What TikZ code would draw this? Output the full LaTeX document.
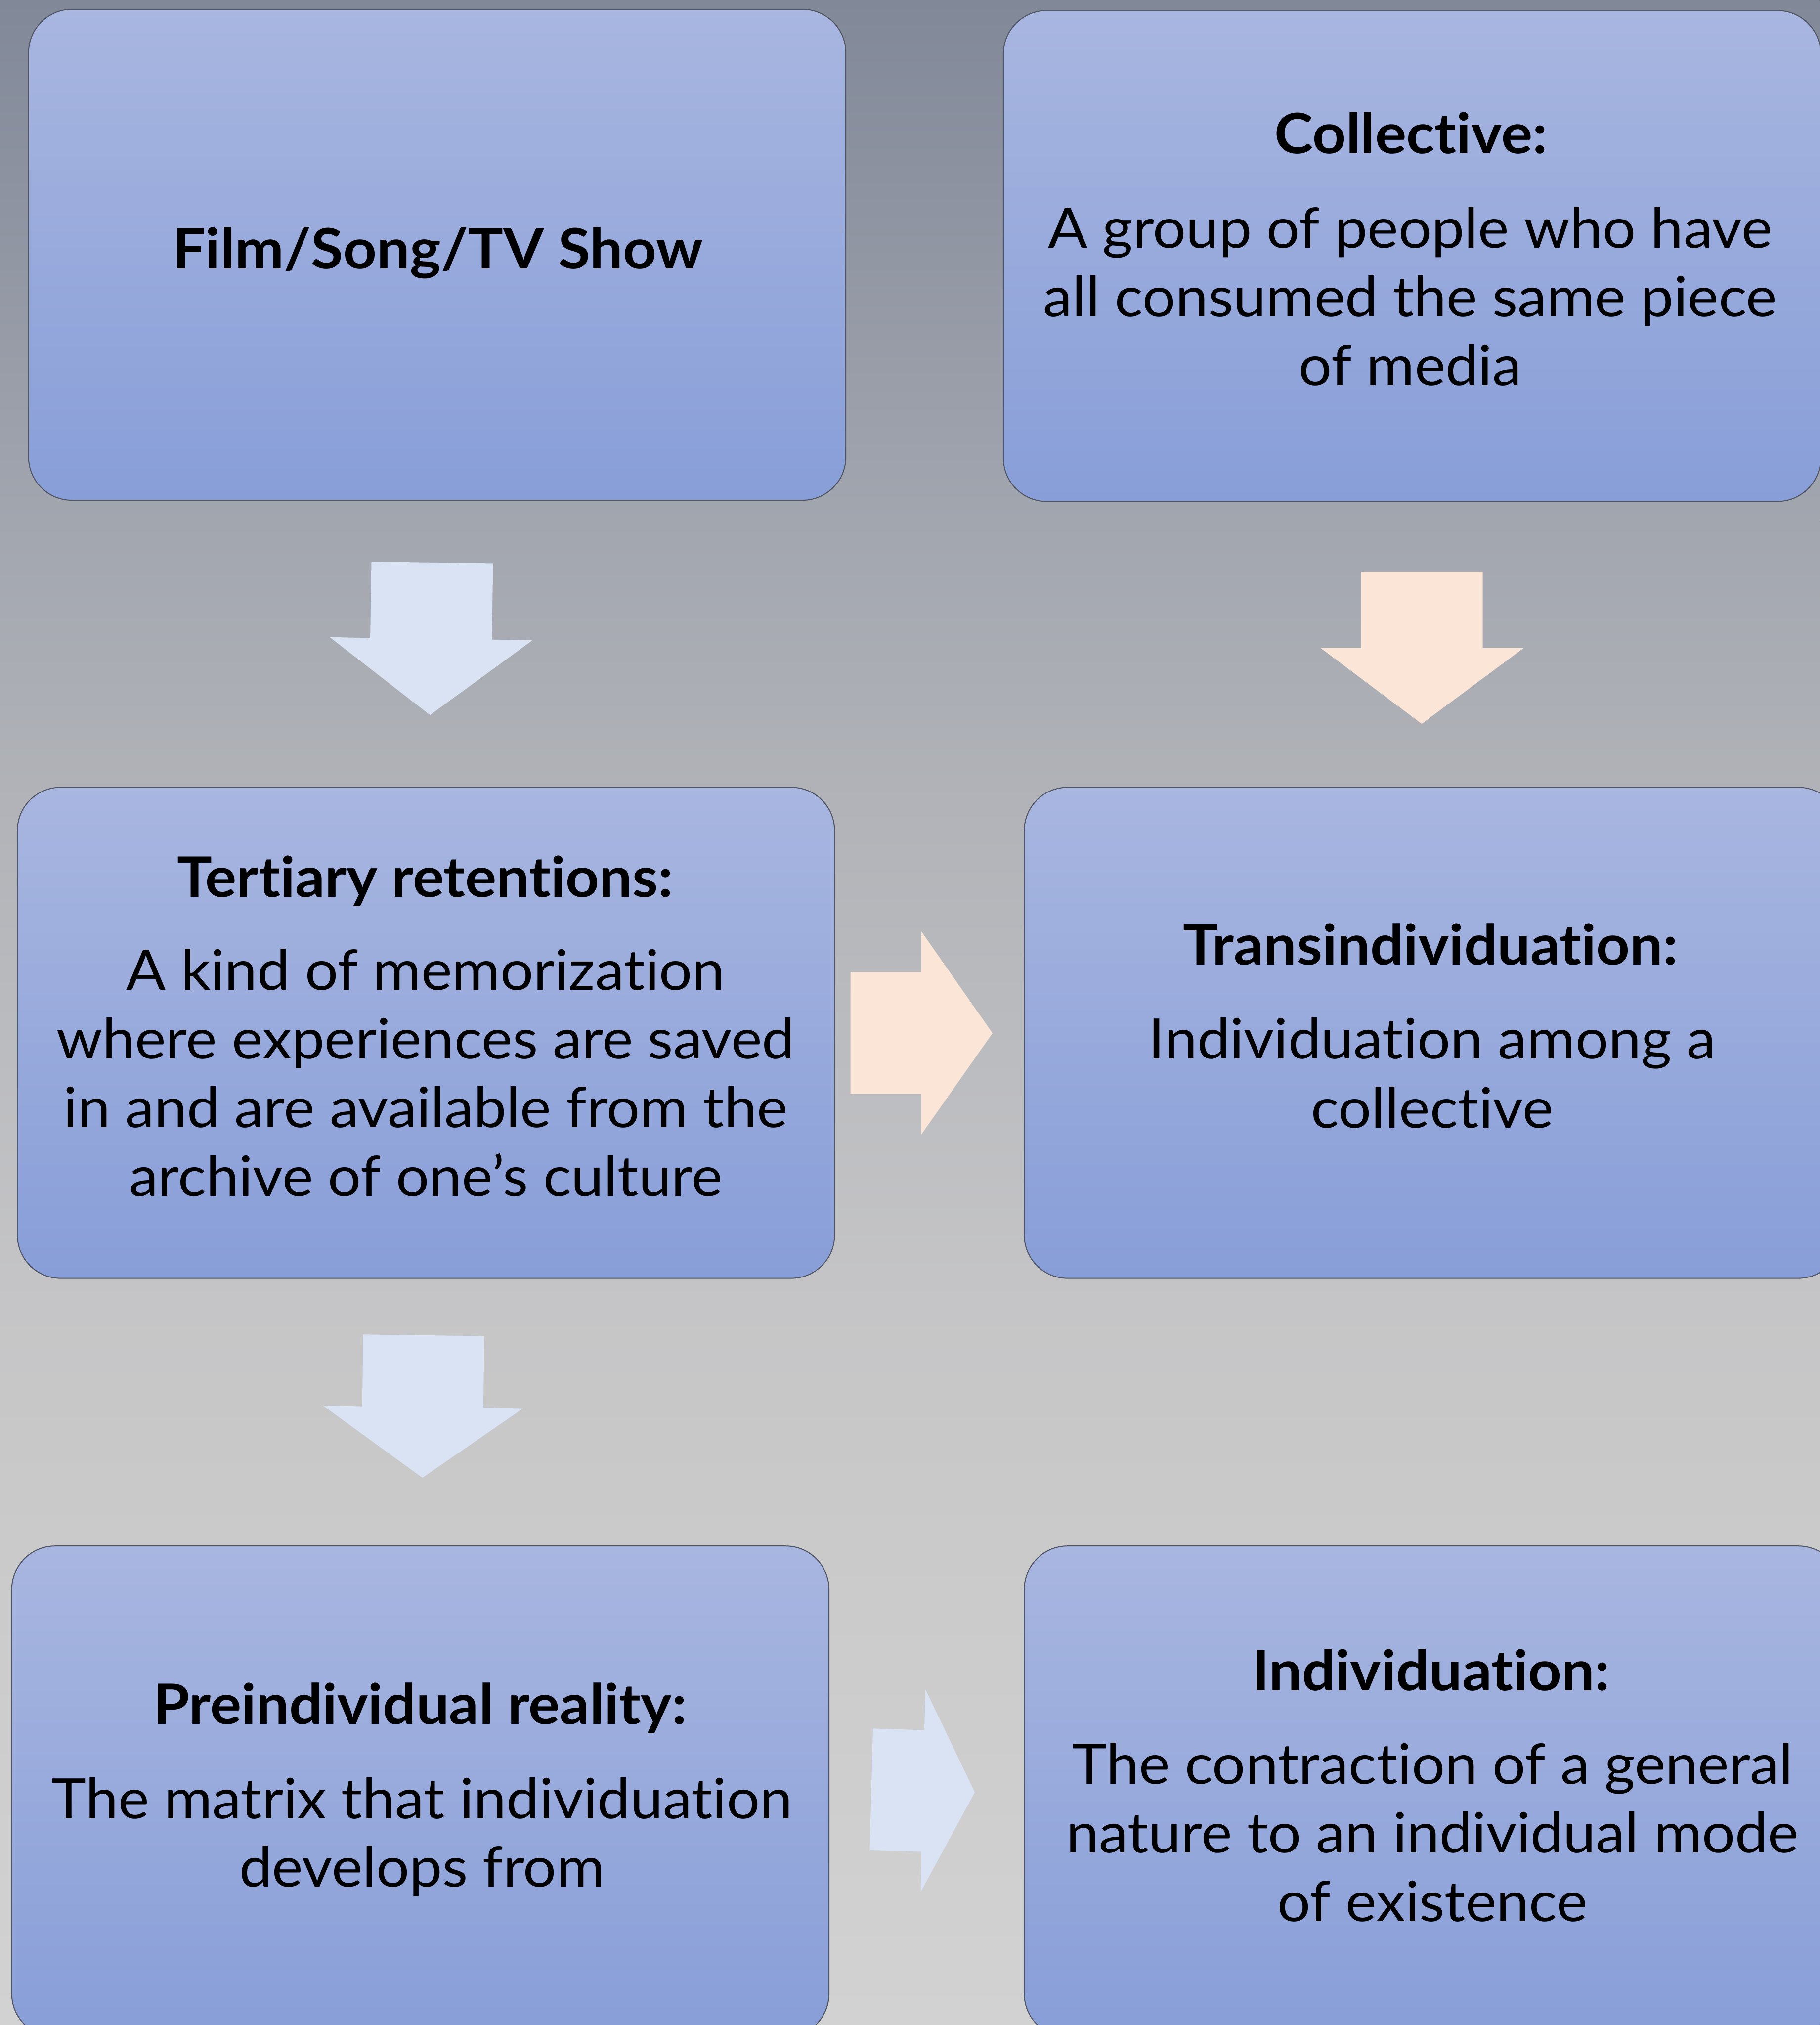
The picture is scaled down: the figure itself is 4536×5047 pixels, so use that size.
\documentclass[tikz,border=0pt]{standalone}
\usepackage{fontspec}
\setmainfont{Lato}[Ligatures=NoCommon, FakeStretch=1.05]
\definecolor{boxtop}{RGB}{168,182,224}
\definecolor{boxbot}{RGB}{136,158,216}
\definecolor{boxline}{RGB}{80,86,100}
\definecolor{arblue}{RGB}{218,227,243}
\definecolor{arpeach}{RGB}{251,229,214}
\definecolor{bgA}{RGB}{129,136,152}
\definecolor{bgB}{RGB}{162,166,175}
\definecolor{bgC}{RGB}{177,179,184}
\definecolor{bgD}{RGB}{197,197,199}
\definecolor{bgE}{RGB}{201,201,201}
\definecolor{bgF}{RGB}{211,210,211}
\begin{document}
\begin{tikzpicture}[x=0.01cm,y=-0.01cm,
  box/.style={draw=boxline, line width=0.7pt, rounded corners=1.08cm,
    top color=boxtop, bottom color=boxbot, inner sep=0pt,
    minimum width=20.36cm, minimum height=12.23cm, anchor=north west},
  ttl/.style={anchor=base, inner sep=0pt, font=\fontsize{39.5}{47}\selectfont\bfseries},
  txt/.style={anchor=base, inner sep=0pt, font=\fontsize{39.5}{47}\selectfont},
  blockblue/.style={fill=arblue},
  blockpeach/.style={fill=arpeach}]
\useasboundingbox (0,0) rectangle (4536,5047);
\clip (0,0) rectangle (4536,5047);
% background
\shade[top color=bgA, bottom color=bgB] (0,0) rectangle (4536,1301);
\shade[top color=bgB, bottom color=bgC] (0,1300) rectangle (4536,2001);
\shade[top color=bgC, bottom color=bgD] (0,2000) rectangle (4536,3251);
\shade[top color=bgD, bottom color=bgE] (0,3250) rectangle (4536,3701);
\shade[top color=bgE, bottom color=bgF] (0,3700) rectangle (4536,5047);
% boxes
\node[box] (film) at (70,22) {};
\node[box] (coll) at (2500,25) {};
\node[box] (tert) at (42,1961) {};
\node[box] (trans) at (2552,1961) {};
\node[box] (pre) at (28,3852) {};
\node[box] (indiv) at (2552,3852) {};
% block arrows
\fill[blockblue] (926,1400) -- (1229,1404) -- (1226,1594) -- (1327,1596) -- (1072,1782) -- (822,1588) -- (923,1590) -- cycle;
\fill[blockpeach] (3393,1425) -- (3696,1425) -- (3696,1615) -- (3798,1615) -- (3544,1804) -- (3292,1615) -- (3393,1615) -- cycle;
\fill[blockpeach] (2120,2423) -- (2297,2423) -- (2297,2322) -- (2474,2575) -- (2297,2827) -- (2297,2726) -- (2120,2726) -- cycle;
\fill[blockblue] (905,3326) -- (1207,3330) -- (1205,3508) -- (1304,3510) -- (1053,3683) -- (805,3503) -- (903,3505) -- cycle;
\fill[blockblue] (2176,4308) -- (2304,4312) -- (2307,4211) -- (2430,4467) -- (2295,4715) -- (2297,4615) -- (2168,4612) -- cycle;
% texts
\node[ttl] (filmT) at (1091,670) {Film/Song/TV Show};
\node[ttl] (collT) at (3517,383) {Collective:};
\node[txt] (collA) at (3515,618) {A group of people who have};
\node[txt] (collB) at (3515,789) {all consumed the same piece};
\node[txt] (collC) at (3515,960) {of media};
\node[ttl] (tertT) at (1060,2236) {Tertiary retentions:};
\node[txt] (tertA) at (1061,2468) {A kind of memorization};
\node[txt] (tertB) at (1061,2639) {where experiences are saved};
\node[txt] (tertC) at (1061,2810) {in and are available from the};
\node[txt] (tertD) at (1061,2981) {archive of one’s culture};
\node[ttl] (transT) at (3566,2405) {Transindividuation:};
\node[txt] (transA) at (3570,2639) {Individuation among a};
\node[txt] (transB) at (3570,2811) {collective};
\node[ttl] (preT) at (1047,4297) {Preindividual reality:};
\node[txt] (preA) at (1052,4532) {The matrix that individuation};
\node[txt] (preB) at (1052,4703) {develops from};
\node[ttl] (indT) at (3567,4213) {Individuation:};
\node[txt] (indA) at (3571,4446) {The contraction of a general};
\node[txt] (indB) at (3571,4617) {nature to an individual mode};
\node[txt] (indC) at (3571,4789) {of existence};
\end{tikzpicture}
\end{document}
